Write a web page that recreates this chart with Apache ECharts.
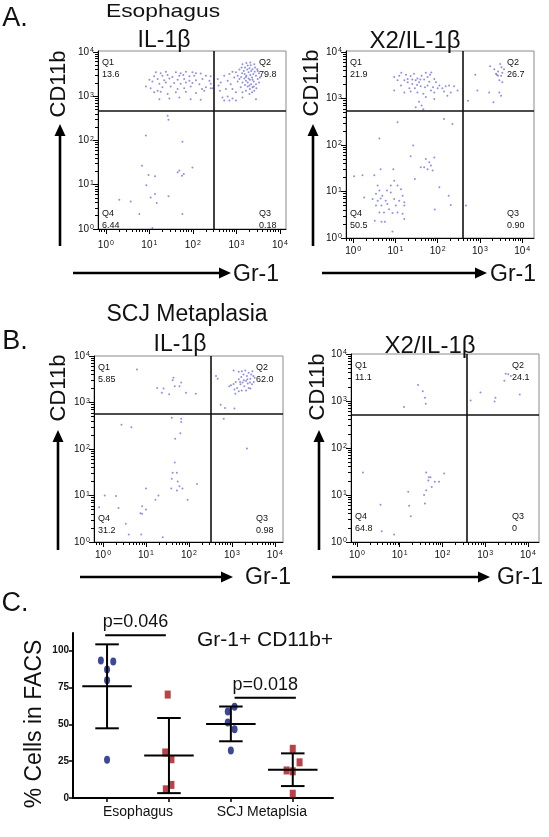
<!DOCTYPE html>
<html><head><meta charset="utf-8">
<script src="https://cdn.jsdelivr.net/npm/echarts@6/dist/echarts.min.js"></script>
<style>html,body{margin:0;padding:0;background:#fff}#c{width:549px;height:837px}</style>
</head><body><div id="c"></div>
<script>
// ---------------- data ----------------
const decadeTicks = [0, 1, 2, 3, 4];            // log10 decades -> 10^0 ... 10^4
const quadNames = ['Q1', 'Q2', 'Q3', 'Q4'];
const rowTitles = ['Esophagus', 'SCJ Metaplasia'];
const plotTitles = ['IL-1β', 'X2/IL-1β', 'IL-1β', 'X2/IL-1β'];
const xAxisName = 'Gr-1';
const yAxisName = 'CD11b';

// quadrant percentages (Q1, Q2, Q3, Q4)
const pctEsoIL = ['13.6', '79.8', '0.18', '6.44'];
const pctEsoX2 = ['21.9', '26.7', '0.90', '50.5'];
const pctScjIL = ['5.85', '62.0', '0.98', '31.2'];
const pctScjX2 = ['11.1', '24.1', '0', '64.8'];

// quadrant gates [Gr-1, CD11b] in log10 units
const gateEsoIL = [2.49, 2.66];
const gateEsoX2 = [2.59, 2.73];
const gateScjIL = [2.50, 2.75];
const gateScjX2 = [2.58, 2.70];

// events [log10 Gr-1, log10 CD11b]
const ptsEsoIL = [
 [1.15,3.54],[1.26,3.52],[1.38,3.55],[1.61,3.54],[1.72,3.52],[1.84,3.55],[1.99,3.54],[2.07,3.52],[2.18,3.51],
 [1.11,3.45],[1.30,3.46],[1.42,3.48],[1.53,3.43],[1.69,3.46],[1.78,3.48],[1.92,3.45],[2.03,3.46],[2.30,3.46],[2.41,3.45],
 [1.00,3.37],[1.19,3.39],[1.34,3.36],[1.46,3.40],[1.65,3.37],[1.80,3.39],[1.92,3.35],[2.07,3.36],[2.22,3.39],[2.38,3.35],
 [0.92,3.22],[1.07,3.33],[1.23,3.28],[1.38,3.31],[1.57,3.30],[1.72,3.28],[1.84,3.31],[1.99,3.30],[2.15,3.27],[2.41,3.28],
 [1.03,3.18],[1.19,3.12],[1.30,3.20],[1.49,3.22],[1.65,3.16],[1.80,3.18],[1.95,3.22],[2.21,3.16],[2.30,3.20],[2.41,3.18],
 [1.11,3.09],[1.26,3.10],[1.42,3.05],[1.61,3.09],[1.84,3.10],[2.07,3.07],[2.26,3.12],
 [1.46,2.95],[1.69,2.97],[1.95,2.93],[2.18,2.92],[1.23,2.93],
 [3.14,3.72],[3.20,3.65],[3.26,3.69],[3.33,3.70],[3.37,3.61],[3.43,3.65],[3.49,3.57],[3.07,3.60],[2.99,3.54],[2.91,3.55],
 [3.13,3.52],[3.19,3.50],[3.23,3.46],[3.28,3.54],[3.32,3.48],[3.36,3.42],[3.39,3.50],[3.45,3.46],[3.49,3.39],[3.52,3.52],
 [3.18,3.40],[3.22,3.35],[3.26,3.31],[3.31,3.37],[3.34,3.27],[3.40,3.33],[3.45,3.27],[3.37,3.20],[3.31,3.16],[3.41,3.12],
 [3.36,3.09],[3.26,3.22],[3.14,3.31],[3.07,3.39],[3.03,3.46],[2.95,3.42],[2.84,3.50],[2.80,3.35],[2.87,3.27],[2.72,3.46],
 [2.64,3.31],[2.57,3.39],[2.59,3.24],[2.62,3.12],[2.76,3.16],[2.91,3.16],[2.99,3.09],[3.10,3.20],[3.14,3.09],[3.22,3.12],
 [2.68,2.97],[2.80,2.99],[2.91,2.95],[2.99,2.90],[2.84,2.90],[2.72,2.90],[3.14,2.97],[3.45,2.93],[3.30,3.05],[3.46,3.18],
 [3.52,3.31],[3.25,3.60],[3.30,3.63],[3.17,3.57],[3.42,3.55],[3.34,3.57],[3.22,3.43],[3.28,3.40],[3.37,3.37],[3.11,3.43],
 [3.03,3.33],[3.20,3.25],[3.30,3.24],[3.40,3.22],[3.48,3.61],[3.54,3.42],[3.41,3.72],[3.32,3.76],[3.23,3.75],[3.12,3.65],
 [2.45,3.18],
 [1.42,2.56],[1.44,2.47],[0.92,2.11],[1.76,1.97],[0.83,1.43],[0.98,1.22],[1.13,1.19],[1.69,1.32],[1.79,1.24],[1.75,1.20],
 [1.99,1.39],[0.93,0.99],[1.13,0.79],[1.03,0.71],[1.44,0.74],[0.31,0.66],[0.57,0.62],[1.17,0.59],[0.77,0.34],[1.76,0.34],
 [1.07,0.02],[1.65,1.28]
];
const ptsEsoX2 = [
 [0.97,3.46],[1.05,3.39],[1.14,3.55],[1.25,3.51],[1.29,3.42],[1.36,3.48],[1.44,3.53],[1.48,3.39],[1.52,3.43],[1.56,3.35],
 [1.62,3.49],[1.68,3.41],[1.72,3.55],[1.76,3.46],[1.82,3.51],[1.85,3.56],[1.92,3.42],[1.96,3.35],[2.04,3.28],[2.11,3.22],
 [2.19,3.26],[2.27,3.28],[2.39,3.26],[2.47,3.17],[0.97,3.17],[1.13,3.28],[1.21,3.13],[1.33,3.22],[1.40,3.31],[1.46,3.22],
 [1.52,3.13],[1.60,3.26],[1.66,3.10],[1.76,3.28],[1.84,3.17],[1.92,3.13],[2.00,3.22],[2.15,3.15],[2.31,3.13],[1.56,2.93],
 [1.62,2.85],[1.66,2.77],[1.48,2.81],[1.29,3.35],[1.40,3.41],[1.51,3.29],[1.59,3.41],[1.70,3.24],[1.80,3.36],[1.89,3.24],
 [1.21,3.39],[1.09,3.49],[1.36,3.15],[1.72,3.03],[2.23,3.06],[1.92,2.99],
 [2.89,3.51],[3.24,3.69],[3.34,3.63],[3.43,3.58],[3.48,3.74],[3.51,3.67],[3.53,3.55],[3.50,3.49],[3.40,3.51],[3.46,3.39],
 [3.53,3.35],[2.94,3.17],[3.22,3.13],[3.46,3.13],[3.50,3.06],[2.72,2.95],[3.32,2.92],[3.57,3.63],[3.43,3.49],[3.38,3.53],
 [1.05,2.49],[2.15,2.56],[2.35,2.45],[0.62,2.14],[1.42,1.99],[1.36,1.76],[1.72,1.70],[1.68,1.52],[1.80,1.63],[1.84,1.56],
 [1.88,1.45],[1.92,1.73],[1.76,1.48],[1.60,1.52],[0.95,1.48],[0.65,1.48],[0.50,1.35],[0.02,1.33],[0.22,1.35],[0.26,0.87],
 [0.58,1.13],[0.62,1.02],[0.69,0.91],[0.77,0.80],[0.81,0.73],[0.54,0.95],[0.67,0.70],[0.97,1.23],[1.05,1.13],[1.13,1.05],
 [1.17,0.91],[1.21,0.77],[0.89,0.98],[0.97,0.84],[1.09,0.80],[1.01,0.70],[1.21,0.70],[0.85,0.62],[0.73,0.55],[1.05,0.55],
 [0.93,0.54],[1.17,0.52],[0.46,0.84],[0.54,0.70],[0.58,0.80],[0.65,0.85],[0.89,1.13],[0.80,1.02],[0.51,0.37],[0.67,0.35],
 [0.75,0.35],[0.93,0.14],[2.26,0.91],[2.31,0.71],[1.93,0.61],[2.04,1.09],[2.67,0.70],[1.46,1.27],[0.62,0.55],[1.21,0.41]
];
const ptsScjIL = [
 [0.79,3.71],[1.64,3.53],[1.62,3.48],[1.26,3.31],[1.41,3.30],[1.67,3.35],[1.78,3.35],[1.82,3.43],[1.37,3.21],[1.54,3.18],
 [1.93,3.21],[2.16,3.19],
 [2.63,3.57],[2.67,3.51],[3.04,3.69],[3.16,3.66],[3.23,3.67],[3.31,3.69],[3.39,3.64],[3.45,3.60],[3.48,3.67],[3.53,3.53],
 [3.43,3.51],[3.35,3.57],[3.27,3.60],[3.22,3.55],[3.16,3.50],[3.09,3.44],[3.04,3.40],[2.98,3.37],[2.94,3.35],[3.12,3.31],
 [3.06,3.28],[3.20,3.39],[3.25,3.43],[3.33,3.46],[3.37,3.41],[3.42,3.43],[3.47,3.39],[3.51,3.44],[3.29,3.35],[3.39,3.31],
 [3.23,3.26],[3.16,3.24],[3.08,3.19],[3.33,3.26],[3.43,3.30],[3.50,3.57],[3.36,3.50],[3.28,3.48],[3.19,3.44],[2.74,2.95],
 [2.84,2.88],[3.06,2.87],[2.81,2.65],
 [3.35,2.01],
 [1.60,2.67],[1.82,2.65],[1.82,2.58],[0.43,2.52],[0.66,2.47],[1.80,2.34],[1.68,2.22],[1.67,1.71],[1.62,1.49],[1.72,1.49],
 [1.60,1.36],[1.74,1.30],[1.78,1.20],[1.59,1.15],[1.85,1.15],[1.72,1.11],[2.19,1.25],[1.00,1.15],[1.29,1.00],[0.04,1.00],
 [0.30,0.99],[1.22,0.91],[1.97,0.91],[0.91,0.77],[-0.09,0.75],[0.36,0.73],[1.00,0.70],[0.87,0.62],[0.91,0.61],[0.53,0.39],
 [0.60,0.16],[0.89,0.16],[1.39,0.10]
];
const ptsScjX2 = [
 [1.43,3.34],[1.54,3.21],[1.59,3.07],[1.61,2.94],[1.10,2.87],
 [3.48,3.58],[3.54,3.57],[3.60,3.53],[3.45,3.43],[2.89,3.18],[2.66,3.01],[3.24,3.07],[3.22,2.99],[3.81,3.14],
 [0.14,1.48],[1.62,1.48],[1.68,1.38],[1.72,1.38],[1.67,1.31],[1.82,1.28],[1.92,1.28],[2.04,1.46],[1.75,1.17],[1.62,1.10],
 [1.20,1.07],[1.57,1.00],[1.59,0.82],[1.22,0.77],[0.55,0.79],[1.26,0.55],[0.58,0.23],[0.87,0.16]
];

// Panel C: % Gr-1+ CD11b+ cells in FACS
const groupLabels = ['Esophagus', 'SCJ Metaplsia'];
const cTicks = [0, 25, 50, 75, 100];
const esoIL = [93.3, 92.6, 87.2, 79.9, 25.9];
const esoILJitter = [-0.1, 0.1, 0, 0, 0];
const esoX2 = [70.2, 30.9, 26.3, 8.9, 5.9];
const esoX2Jitter = [-0.02, -0.06, 0.04, 0.04, -0.05];
const scjIL = [62.0, 58.7, 51.2, 46.7, 32.3];
const scjILJitter = [0.06, -0.05, -0.05, 0.06, 0];
const scjX2 = [33.4, 24.2, 18.7, 18.1, 2.9];
const scjX2Jitter = [0, 0.11, -0.1, 0, 0];
const groupMeans = [75.8, 28.8, 50.3, 19.2];
const groupSD = [28.5, 25.5, 11.8, 11.1];
const sigBars = [[0.97, 1.95, 110.5], [3.06, 4.05, 68]];
const sigLabels = ['p=0.046', 'p=0.018'];
const cTitle = 'Gr-1+ CD11b+';
const cYName = '% Cells in FACS';

// ---------------- build ----------------
const FONT = '"Liberation Sans", Arial, Helvetica, sans-serif';
const flow = [
  {rect:{left:98, top:51, width:188, height:178}, x:[-0.18,4.14], y:[0,4.02], pts:ptsEsoIL, gate:gateEsoIL, pct:pctEsoIL, xm:11},
  {rect:{left:346, top:51, width:188, height:187}, x:[-0.17,4.28], y:[0,4.02], pts:ptsEsoX2, gate:gateEsoX2, pct:pctEsoX2, xm:8},
  {rect:{left:94, top:356, width:189, height:186}, x:[-0.21,4.19], y:[0,4.0], pts:ptsScjIL, gate:gateScjIL, pct:pctScjIL, xm:8},
  {rect:{left:351, top:354, width:188, height:188}, x:[-0.14,4.26], y:[0,4.0], pts:ptsScjX2, gate:gateScjX2, pct:pctScjX2, xm:8}
];
function minorTicks(min, max) {
  const out = [];
  for (let n = -1; n <= 4; n++) for (let k = 2; k <= 9; k++) {
    const v = n + Math.log10(k);
    if (v > min && v < max) out.push(+v.toFixed(4));
  }
  return out;
}
const supRich = {
  b: {fontSize: 10, fontFamily: FONT, color: '#111', lineHeight: 10, verticalAlign: 'bottom'},
  s: {fontSize: 7, fontFamily: FONT, color: '#111', lineHeight: 7, verticalAlign: 'top', padding: [0, 0, 6, 1]}
};
const supFmt = v => '{b|10}{s|' + Math.round(v) + '}';

const grids = [], xAxes = [], yAxes = [], series = [], graphics = [];
function txt(x, y, text, size, o) {
  o = o || {};
  graphics.push({type: 'text', x: x, y: y, rotation: o.rot || 0, scaleX: o.sx || 1, silent: true,
    style: {text: text, fontSize: size, fontFamily: FONT, fontWeight: o.w || 'normal', fill: '#111',
      textAlign: o.align || 'center', textVerticalAlign: 'middle', align: o.align || 'center', verticalAlign: 'middle'}});
}
function arrow(x1, y1, x2, y2) {
  const dx = x2 - x1, dy = y2 - y1, L = Math.hypot(dx, dy), ux = dx / L, uy = dy / L;
  const hl = 12, hw = 5.5;
  const bx = x2 - ux * hl, by = y2 - uy * hl;
  graphics.push({type: 'line', silent: true, shape: {x1: x1, y1: y1, x2: bx + ux, y2: by + uy}, style: {stroke: '#000', lineWidth: 2.6}});
  graphics.push({type: 'polygon', silent: true, shape: {points: [[x2, y2], [bx - uy * hw, by + ux * hw], [bx + uy * hw, by - ux * hw]]}, style: {fill: '#000'}});
}

flow.forEach((p, i) => {
  const r = p.rect;
  grids.push(Object.assign({show: true, borderColor: '#8a8a8a', borderWidth: 1, backgroundColor: 'transparent'}, r));
  const xi = xAxes.length, yi = yAxes.length;
  xAxes.push({type: 'value', gridIndex: i, min: p.x[0], max: p.x[1], position: 'bottom',
    axisLine: {show: true, onZero: false, lineStyle: {color: '#000', width: 1}},
    axisTick: {show: true, inside: false, length: 5, customValues: decadeTicks, lineStyle: {color: '#000', width: 1}},
    axisLabel: {show: true, customValues: decadeTicks, margin: p.xm, formatter: supFmt, rich: supRich},
    splitLine: {show: false}});
  xAxes.push({type: 'value', gridIndex: i, min: p.x[0], max: p.x[1], position: 'bottom',
    axisLine: {show: false, onZero: false},
    axisTick: {show: true, inside: false, length: 3, customValues: minorTicks(p.x[0], p.x[1]), lineStyle: {color: '#000', width: 1}},
    axisLabel: {show: false}, splitLine: {show: false}});
  yAxes.push({type: 'value', gridIndex: i, min: p.y[0], max: p.y[1], position: 'left',
    axisLine: {show: true, onZero: false, lineStyle: {color: '#000', width: 1}},
    axisTick: {show: true, inside: false, length: 5, customValues: decadeTicks, lineStyle: {color: '#000', width: 1}},
    axisLabel: {show: true, customValues: decadeTicks, margin: 4, formatter: supFmt, rich: supRich},
    splitLine: {show: false}});
  yAxes.push({type: 'value', gridIndex: i, min: p.y[0], max: p.y[1], position: 'left',
    axisLine: {show: false, onZero: false},
    axisTick: {show: true, inside: false, length: 3, customValues: minorTicks(p.y[0], p.y[1]), lineStyle: {color: '#000', width: 1}},
    axisLabel: {show: false}, splitLine: {show: false}});
  series.push({type: 'scatter', xAxisIndex: xi, yAxisIndex: yi, data: p.pts, symbol: 'circle', symbolSize: 2,
    itemStyle: {color: 'rgba(80,80,215,0.8)'}, silent: true, z: 3,
    markLine: {silent: true, symbol: 'none', animation: false, label: {show: false},
      lineStyle: {color: '#111', width: 1.6, type: 'solid'},
      data: [{xAxis: p.gate[0]}, {yAxis: p.gate[1]}]}});
  // quadrant labels
  const L = r.left + 4, R = r.left + r.width - 27;
  const pos = [[L, r.top + 12], [R, r.top + 12], [R, r.top + 163], [L, r.top + 163]];
  quadNames.forEach((q, k) => {
    txt(pos[k][0], pos[k][1], q, 9, {align: 'left'});
    txt(pos[k][0], pos[k][1] + 12, p.pct[k], 9, {align: 'left'});
  });
});

// panel C
const gi = grids.length;
grids.push({left: 73, top: 633, width: 260, height: 165, show: false});
const cxi = xAxes.length, cyi = yAxes.length;
xAxes.push({type: 'value', gridIndex: gi, min: 0.45, max: 4.65, position: 'bottom',
  axisLine: {show: true, onZero: false, lineStyle: {color: '#000', width: 2}},
  axisTick: {show: true, inside: false, length: 4, customValues: [1, 2, 3, 4], lineStyle: {color: '#000', width: 1.5}},
  axisLabel: {show: true, customValues: [1.5, 3.5], margin: 7, fontSize: 14, fontFamily: FONT, color: '#111',
    formatter: v => groupLabels[Math.round((v - 1.5) / 2)]},
  splitLine: {show: false}});
yAxes.push({type: 'value', gridIndex: gi, min: 0, max: 112, position: 'left',
  axisLine: {show: true, onZero: false, lineStyle: {color: '#000', width: 2}},
  axisTick: {show: true, inside: false, length: 4, customValues: cTicks, lineStyle: {color: '#000', width: 1.5}},
  axisLabel: {show: true, customValues: cTicks, margin: 4, fontSize: 10, fontWeight: 'bold', fontFamily: FONT, color: '#111'},
  splitLine: {show: false}});
const groups = [[esoIL, esoILJitter], [esoX2, esoX2Jitter], [scjIL, scjILJitter], [scjX2, scjX2Jitter]];
const blueData = [], redData = [];
groups.forEach((g, i) => {
  g[0].forEach((v, k) => ((i % 2 === 0) ? blueData : redData).push([i + 1 + g[1][k], v]));
});
series.push({type: 'scatter', xAxisIndex: cxi, yAxisIndex: cyi, data: blueData, symbol: 'circle', symbolSize: [6, 8],
  itemStyle: {color: '#0c1b7a'}, z: 3, silent: true});
series.push({type: 'scatter', xAxisIndex: cxi, yAxisIndex: cyi, data: redData, symbol: 'rect', symbolSize: [6, 8],
  itemStyle: {color: '#a8131c'}, z: 3, silent: true});
series.push({type: 'custom', xAxisIndex: cxi, yAxisIndex: cyi, z: 4, silent: true,
  data: groupMeans.map((m, i) => [i + 1, m, groupSD[i]]),
  renderItem: function (params, api) {
    const x = api.value(0), m = api.value(1), sd = api.value(2);
    const c = api.coord([x, m]), t = api.coord([x, m + sd]), b = api.coord([x, m - sd]);
    const hw = api.size([0.4, 0])[0], cw = api.size([0.19, 0])[0];
    const ls = {stroke: '#000', lineWidth: 2};
    return {type: 'group', children: [
      {type: 'line', shape: {x1: c[0], y1: t[1], x2: c[0], y2: b[1]}, style: ls},
      {type: 'line', shape: {x1: c[0] - hw, y1: c[1], x2: c[0] + hw, y2: c[1]}, style: ls},
      {type: 'line', shape: {x1: c[0] - cw, y1: t[1], x2: c[0] + cw, y2: t[1]}, style: ls},
      {type: 'line', shape: {x1: c[0] - cw, y1: b[1], x2: c[0] + cw, y2: b[1]}, style: ls}
    ]};
  }});
series.push({type: 'custom', xAxisIndex: cxi, yAxisIndex: cyi, z: 4, silent: true, clip: false,
  data: sigBars,
  renderItem: function (params, api) {
    const a = api.coord([api.value(0), api.value(2)]), b = api.coord([api.value(1), api.value(2)]);
    return {type: 'group', children: [
      {type: 'line', shape: {x1: a[0], y1: a[1], x2: b[0], y2: b[1]}, style: {stroke: '#000', lineWidth: 2}},
      {type: 'text', x: (a[0] + b[0]) / 2, y: a[1] - 4, style: {text: sigLabels[params.dataIndex], fontSize: 18, fontFamily: FONT,
        fill: '#111', textAlign: 'center', textVerticalAlign: 'bottom', align: 'center', verticalAlign: 'bottom'}}
    ]};
  }});

// texts
txt(15, 19, 'A.', 27, {align: 'center'});
txt(15, 342, 'B.', 27, {align: 'center'});
txt(15, 604, 'C.', 27, {align: 'center'});
txt(163, 11.5, rowTitles[0], 19, {sx: 1.2});
txt(164, 41, plotTitles[0], 23);
txt(415, 41, plotTitles[1], 24);
txt(187, 315, rowTitles[1], 23);
txt(180, 345, plotTitles[2], 23);
txt(430, 346, plotTitles[3], 24);
[[59, 84], [312, 83], [58.5, 388], [318, 387]].forEach(c => txt(c[0], c[1], yAxisName, 22, {rot: Math.PI / 2}));
[[233, 275], [490, 275], [245, 578], [497, 578]].forEach(c => txt(c[0], c[1], xAxisName, 23, {align: 'left'}));
arrow(60, 246, 60, 124); arrow(73, 273, 231, 273);
arrow(313, 246, 313, 124); arrow(322, 273, 487, 273);
arrow(58, 550, 58, 430); arrow(80, 577, 233, 577);
arrow(319, 550, 319, 430); arrow(332, 577, 490, 577);
txt(265, 640, cTitle, 21);
txt(35, 724, cYName, 23, {rot: Math.PI / 2});

const chart = echarts.init(document.getElementById('c'), null, {renderer: 'canvas'});
chart.setOption({animation: false, backgroundColor: '#fff', grid: grids, xAxis: xAxes, yAxis: yAxes, series: series, graphic: graphics});
</script></body></html>
